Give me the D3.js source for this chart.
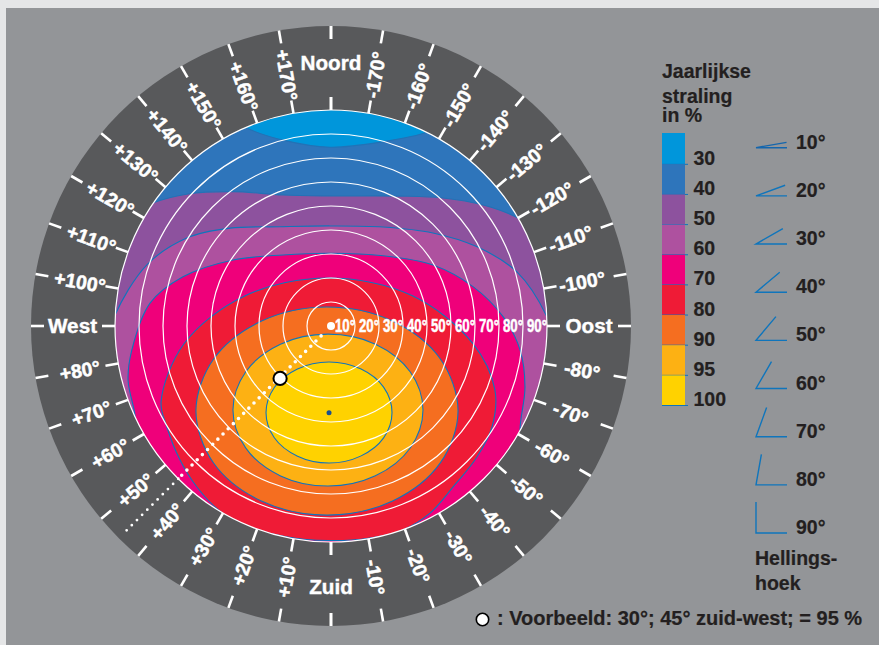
<!DOCTYPE html>
<html><head><meta charset="utf-8">
<script src="https://cdn.jsdelivr.net/npm/d3@7/dist/d3.min.js"></script>
<style>html,body{margin:0;padding:0;background:#e5e6e7}svg{display:block}text{font-family:"Liberation Sans",Arial,sans-serif;font-weight:700}</style>
</head><body><svg id="c" width="879" height="645"></svg>
<script>
// Azimuth 0 = south, + = west, - = east. Tilt in degrees.
const legendValues = [30,40,50,60,70,80,90,95,100];
const bandColors = ["#0096db","#2e75bb","#8d529e","#ae519f","#ef007a","#ef1b36","#f56e20","#fdb113","#ffd200"];
const contour30Az = [155.7,156.7,165.5,179.7,-164.2,-153.7,-152.4,-110,-60,0,60,110];
const contour30Tilt = [92.3,90,80,74.5,79.8,90,93.5,130,130,130,130,130];
const contour40Az = [121.3,124.6,132.7,143.9,159.9,-179.1,-152,-138.8,-128.5,-120,-115.2,-90,-45,0,45,90];
const contour40Tilt = [93.1,90.2,81.1,69.3,58.1,54.2,61.3,70.9,81,90,94,125,125,125,125,125];
const contour50Az = [86.4,92.9,108.3,121.4,134.1,152.8,179.4,-152.3,-132.4,-118.6,-106.3,-92.5,-86.4,-60,0,60];
const contour50Tilt = [93.1,90.1,80.9,70.4,58.6,46.5,41.7,46.6,57.5,69.1,80.6,90,93.1,120,120,120];
const contour60Az = [55,65.6,75.1,83.1,97.2,108.4,124,146,179.2,-143.5,-120.9,-105.5,-93.1,-82.8,-72.6,-61.2,-55,0];
const contour60Tilt = [98,89.7,87.5,83.6,76,65,49.2,35.7,30.3,36.4,49.5,61.4,71.8,79.4,84.7,89.9,98,105];
const contour70Az = [-83,-68.7,-57.9,-48.1,-37.1,-27.9,-19.4,-10.4,0.7,12,23.9,30.8,39.8,48.4,58.4,66,83.2,109.5,177,-110.6];
const contour70Tilt = [59.5,73.3,79.2,81.7,84.2,88.2,90.1,89.8,89.4,89.8,90.4,90,87.3,84.1,80.3,77.5,61.6,37.9,20,36];
const contour80Az = [-56.2,-38.6,-19.4,1.2,21.7,40.6,57.8,74.3,94.1,168.1,-94.6,-73.2];
const contour80Tilt = [63.7,73,77.3,78.8,78.5,75.2,66.5,50.8,29,8.1,25.7,47.6];
const contour90Az = [-47.6,-33,-16.5,1.1,18.6,35,49.4,61.7,70.2,20.6,-67.8,-59.9];
const contour90Tilt = [51.9,60.6,65.1,66.7,65.9,62,53.8,40.4,22.4,3.6,20,38.2];
const contour95Az = [-35.2,-25.2,-12.8,0.8,14.4,26.9,36.9,42.7,38,3.2,-34.6,-40.7];
const contour95Tilt = [44.1,51.5,55.6,57.1,56,52.2,45.1,34.7,22.7,15,21.7,33.6];
const peak = {az:1.3, tilt:36.2, value:100};
const example = {az:45, tilt:30, value:95};
const tiltRings = [10,20,30,40,50,60,70,80,90];
const azimuthLabels = [10,20,30,40,50,60,70,80,100,110,120,130,140,150,160,170];
const compass = [["Noord",180,263.5],["West",90,258.5],["Zuid",0,260.5],["Oost",-90,258]];
const legendTitle = ["Jaarlijkse","straling","in %"];
const tiltTitle = ["Hellings-","hoek"];
const note = ": Voorbeeld: 30°; 45° zuid-west; = 95 %";

const W=879,H=645,cx=331,cy=326,R0=216,Rout=300;
const svg=d3.select("#c");
const INK="#231f20",LINE="#0f75bc",DARK="#58595b",BG="#939598";
svg.append("rect").attr("width",W).attr("height",H).attr("fill","#e5e6e7");
svg.append("rect").attr("x",6).attr("y",8).attr("width",W-6).attr("height",H-8).attr("fill",BG);
const r=d3.scaleLinear().domain([0,90]).range([0,R0]);
const polar=(az,q)=>{const a=az*Math.PI/180;return [cx-q*Math.sin(a),cy+q*Math.cos(a)];};
const pt=(az,t)=>polar(az,r(t));
svg.append("circle").attr("cx",cx).attr("cy",cy).attr("r",Rout).attr("fill",DARK);
const defs=svg.append("defs");
defs.append("clipPath").attr("id","inner").append("circle").attr("cx",cx).attr("cy",cy).attr("r",R0);
const g=svg.append("g").attr("clip-path","url(#inner)");
g.append("circle").attr("cx",cx).attr("cy",cy).attr("r",R0).attr("fill",bandColors[0]);
const line=d3.line().curve(d3.curveCatmullRomClosed.alpha(0.5));
const contours=[[contour30Az,contour30Tilt],[contour40Az,contour40Tilt],[contour50Az,contour50Tilt],[contour60Az,contour60Tilt],[contour70Az,contour70Tilt],[contour80Az,contour80Tilt],[contour90Az,contour90Tilt],[contour95Az,contour95Tilt]];
contours.forEach(([az,t],i)=>{
  g.append("path").attr("d",line(az.map((a,j)=>pt(a,t[j])))).attr("fill",bandColors[i+1])
   .attr("stroke",i<2?"#2272b6":LINE).attr("stroke-width",1.1);
});
tiltRings.forEach(t=>svg.append("circle").attr("cx",cx).attr("cy",cy).attr("r",r(t)).attr("fill","none").attr("stroke","#fff").attr("stroke-width",1.2));
const tick=(az,a,b)=>{const [x1,y1]=polar(az,a),[x2,y2]=polar(az,b);
  svg.append("line").attr("x1",x1).attr("y1",y1).attr("x2",x2).attr("y2",y2).attr("stroke","#fff").attr("stroke-width",2.6);};
azimuthLabels.concat([0,90,180]).forEach(v=>{[v,-v].forEach(az=>{tick(az,R0,229);tick(az,287,Rout);});});
azimuthLabels.forEach(v=>{[v,-v].forEach(az=>{
  const [x,y]=polar(az,255);
  const rot= az>0 ? az-90 : az+90;
  svg.append("text").attr("transform",`translate(${x},${y}) rotate(${rot})`).attr("text-anchor","middle").attr("dy","0.36em")
    .attr("font-size",19.5).attr("fill","#fff").attr("stroke","#fff").attr("stroke-width",0.5).text((az>0?"+":"-")+v+"°");
});});
compass.forEach(([s,az,q])=>{const [x,y]=polar(az,q);
  svg.append("text").attr("x",x).attr("y",y).attr("dy","0.36em").attr("text-anchor","middle").attr("font-size",20.7).attr("fill","#fff").attr("stroke","#fff").attr("stroke-width",0.4).text(s);});
tiltRings.forEach(t=>{svg.append("text").attr("transform",`translate(${cx+r(t)},332) scale(0.7,1)`).attr("text-anchor","end").attr("font-size",19).attr("fill","#fff").attr("stroke","#fff").attr("stroke-width",0.5).text(t+"°");});
const [ax,ay]=polar(45,14),[bx,by]=polar(45,R0),[ex,ey]=polar(45,295);
svg.append("line").attr("x1",ax).attr("y1",ay).attr("x2",bx).attr("y2",by).attr("stroke","#fff").attr("stroke-width",3.6).attr("stroke-linecap","round").attr("stroke-dasharray","0 7.3");
svg.append("line").attr("x1",bx).attr("y1",by).attr("x2",ex).attr("y2",ey).attr("stroke","#fff").attr("stroke-width",2.8).attr("stroke-linecap","round").attr("stroke-dasharray","0 7.3");
svg.append("circle").attr("cx",cx).attr("cy",cy).attr("r",4).attr("fill","#fff");
const [mx,my]=pt(example.az,example.tilt);
svg.append("circle").attr("cx",mx).attr("cy",my+1.5).attr("r",6.6).attr("fill","#fff").attr("stroke","#000").attr("stroke-width",2);
const [px,py]=pt(peak.az,peak.tilt);
svg.append("circle").attr("cx",px).attr("cy",py).attr("r",2.5).attr("fill","#1b4f8f");
const T=(s,x,y,fs=19.5)=>svg.append("text").attr("x",x).attr("y",y).attr("font-size",fs).attr("fill",INK).attr("stroke",INK).attr("stroke-width",0.2).text(s);
T(legendTitle[0],662,78);T(legendTitle[1],662,103);T(legendTitle[2],662,122);
const ly=d3.scaleLinear().domain([0,8]).range([164.3,405.5]);
legendValues.forEach((v,i)=>{
  const top=i?ly(i-1):133, bot=ly(i);
  svg.append("rect").attr("x",662).attr("y",top).attr("width",23).attr("height",bot-top).attr("fill",bandColors[i]);
  svg.append("line").attr("x1",662).attr("x2",688).attr("y1",bot).attr("y2",bot).attr("stroke",LINE).attr("stroke-width",1);
  T(v,693.5,bot+0.5);
});
const aY=d3.scaleLinear().domain([10,90]).range([147.7,533]);
tiltRings.forEach(t=>{
  const y=aY(t),a=t*Math.PI/180;
  svg.append("path").attr("d",`M${756+31*Math.cos(a)},${y-31*Math.sin(a)}L756,${y}L787,${y}`).attr("fill","none").attr("stroke",t===10?"#1466ad":LINE).attr("stroke-width",1.4);
  T(t+"°",796,y+1);
});
T(tiltTitle[0],755,565);T(tiltTitle[1],755,590);
svg.append("circle").attr("cx",482.5).attr("cy",619.5).attr("r",6.2).attr("fill","#fff").attr("stroke","#000").attr("stroke-width",1.6);
T(note,497,625,20);
</script></body></html>
